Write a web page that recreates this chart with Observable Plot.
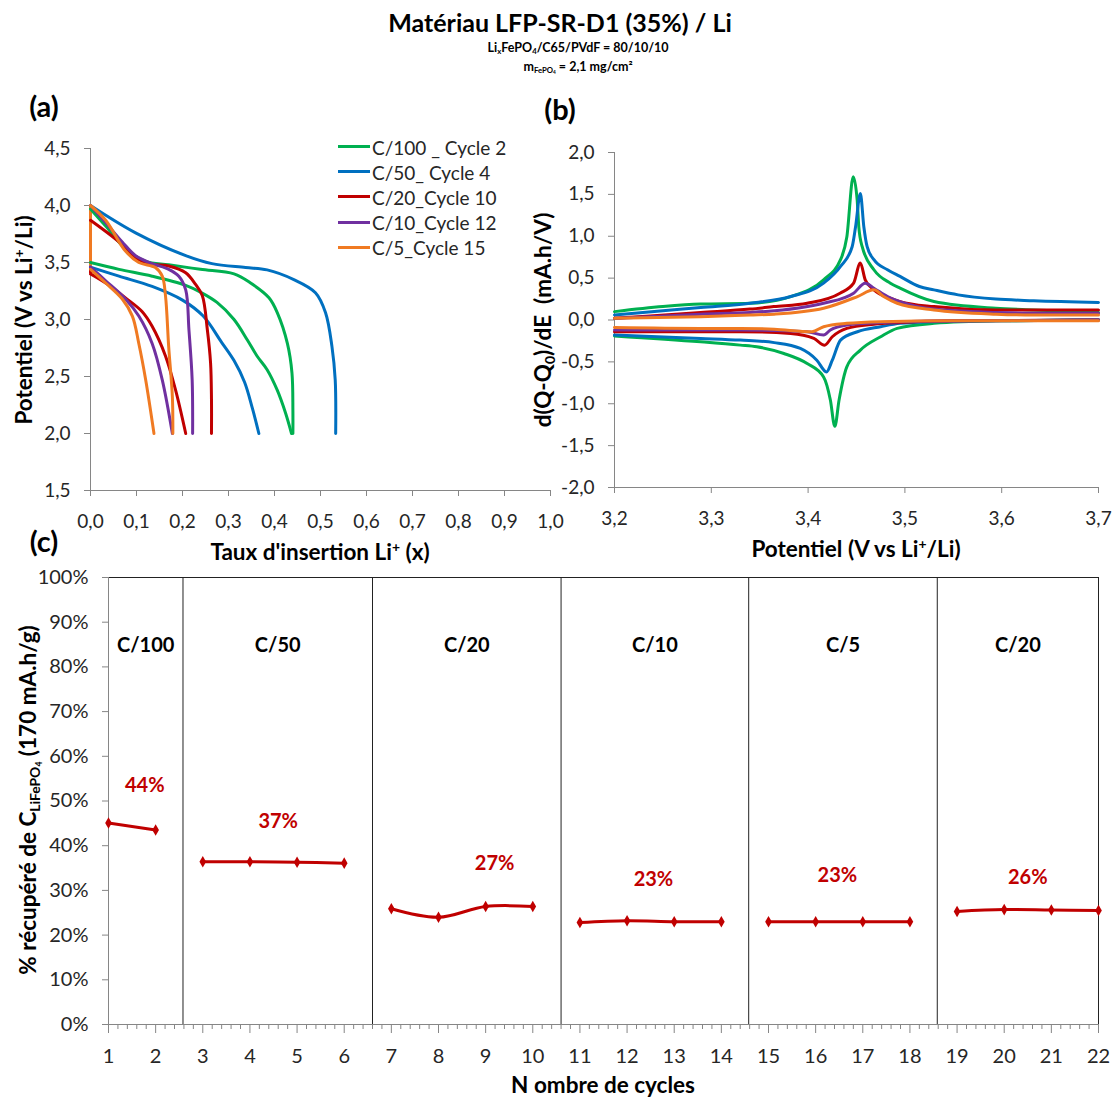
<!DOCTYPE html>
<html><head><meta charset="utf-8">
<script src="https://cdn.jsdelivr.net/npm/d3@7"></script>
<script src="https://cdn.jsdelivr.net/npm/@observablehq/plot@0.6"></script>
<style>
body{margin:0;background:#fff;font-family:Lato,"Open Sans",sans-serif;}
#wrap{position:relative;width:1117px;height:1098px;overflow:hidden;background:#fff;}
#wrap svg{position:absolute;}
.t{position:absolute;white-space:nowrap;color:#000;line-height:1;}
sub.s{font-size:0.62em;vertical-align:-0.3em;line-height:0;}
sup.s{font-size:0.62em;vertical-align:0.55em;line-height:0;}
</style></head><body><div id="wrap"></div>
<script>
// ---------- shared ----------
const seriesNames = ["C/100 _ Cycle 2", "C/50_ Cycle 4", "C/20_Cycle 10", "C/10_Cycle 12", "C/5_Cycle 15"];
const seriesColors = ["#00B050", "#0070C0", "#C00000", "#7030A0", "#F07A22"];

// ---------- panel (a): potential vs insertion rate ----------
const aXTicks = [0, 0.1, 0.2, 0.3, 0.4, 0.5, 0.6, 0.7, 0.8, 0.9, 1.0];
const aYTicks = [1.5, 2.0, 2.5, 3.0, 3.5, 4.0, 4.5];
// lower branch (starts at x = 0)
const aGreenLoX = [0,0.062,0.134,0.207,0.239,0.275,0.312,0.341,0.362,0.384,0.406,0.424,0.437];
const aGreenLoV = [3.5,3.44,3.38,3.30,3.24,3.15,3.0,2.82,2.68,2.56,2.38,2.18,2.0];
const aBlueLoX = [0,0.062,0.134,0.2,0.245,0.285,0.312,0.335,0.352,0.366];
const aBlueLoV = [3.46,3.38,3.29,3.17,3.03,2.8,2.64,2.45,2.22,2.0];
const aRedLoX = [0,0.033,0.076,0.112,0.134,0.163,0.185,0.207];
const aRedLoV = [3.40,3.32,3.19,3.07,2.94,2.68,2.38,2.0];
const aPurpleLoX = [0,0.033,0.076,0.105,0.134,0.156,0.178];
const aPurpleLoV = [3.46,3.34,3.18,3.03,2.79,2.47,2.0];
const aOrangeLoX = [0,0.033,0.069,0.091,0.105,0.12,0.138];
const aOrangeLoV = [3.44,3.32,3.18,3.03,2.79,2.47,2.0];
// upper branch (starts at x = 0)
const aGreenUpX = [0,0.033,0.076,0.12,0.17,0.239,0.312,0.348,0.388,0.406,0.428,0.438,0.44,0.44];
const aGreenUpV = [3.97,3.82,3.62,3.51,3.48,3.44,3.40,3.32,3.19,3.06,2.79,2.53,2.2,2.0];
const aBlueUpX = [0,0.098,0.207,0.264,0.337,0.384,0.442,0.489,0.511,0.525,0.532,0.533];
const aBlueUpV = [4.0,3.76,3.56,3.49,3.456,3.435,3.35,3.235,3.06,2.76,2.47,2.0];
const aRedUpX = [0,0.062,0.098,0.134,0.17,0.207,0.228,0.243,0.254,0.261,0.263,0.263];
const aRedUpV = [3.87,3.68,3.54,3.485,3.47,3.41,3.31,3.21,2.91,2.62,2.3,2.0];
const aPurpleUpX = [0,0.033,0.069,0.098,0.134,0.17,0.192,0.207,0.214,0.221,0.222];
const aPurpleUpV = [4.0,3.85,3.68,3.56,3.49,3.44,3.38,3.26,2.91,2.47,2.0];
const aOrangeUpX = [0,0.033,0.076,0.105,0.141,0.156,0.163,0.17,0.178,0.179];
const aOrangeUpV = [4.0,3.87,3.60,3.50,3.456,3.38,3.21,2.76,2.32,2.0];

// ---------- panel (b): dQ/dE vs potential ----------
const bXTicks = [3.2, 3.3, 3.4, 3.5, 3.6, 3.7];
const bYTicks = [-2.0, -1.5, -1.0, -0.5, 0.0, 0.5, 1.0, 1.5, 2.0];
const bGreenUpE = [3.2,3.25,3.289,3.34,3.382,3.416,3.4335,3.44,3.4466,3.4507,3.4524,3.4559,3.468,3.485,3.495,3.53,3.594,3.633,3.7];
const bGreenUp  = [0.10,0.16,0.19,0.20,0.28,0.48,0.72,0.99,1.71,1.43,1.11,0.875,0.60,0.44,0.38,0.22,0.14,0.12,0.09];
const bBlueUpE  = [3.2,3.25,3.289,3.34,3.382,3.416,3.4335,3.4455,3.449,3.454,3.4576,3.461,3.468,3.482,3.495,3.515,3.53,3.555,3.594,3.633,3.7];
const bBlueUp   = [0.06,0.11,0.15,0.20,0.28,0.44,0.64,0.875,1.11,1.51,1.11,0.875,0.72,0.60,0.52,0.40,0.36,0.30,0.25,0.23,0.21];
const bRedUpE   = [3.2,3.289,3.34,3.3646,3.399,3.433,3.447,3.454,3.459,3.468,3.485,3.495,3.53,3.594,3.633,3.7];
const bRedUp    = [0.02,0.09,0.13,0.16,0.20,0.32,0.44,0.68,0.48,0.36,0.26,0.22,0.16,0.12,0.12,0.12];
const bPurpleUpE= [3.2,3.289,3.34,3.365,3.416,3.447,3.459,3.468,3.482,3.495,3.53,3.594,3.633,3.7];
const bPurpleUp = [0.02,0.07,0.09,0.11,0.20,0.32,0.44,0.38,0.28,0.22,0.13,0.09,0.08,0.08];
const bOrangeUpE= [3.2,3.289,3.34,3.365,3.416,3.451,3.468,3.478,3.492,3.53,3.594,3.633,3.7];
const bOrangeUp = [0.02,0.04,0.06,0.07,0.14,0.28,0.36,0.28,0.20,0.12,0.07,0.06,0.06];
const bGreenDnE = [3.2,3.289,3.33,3.347,3.375,3.399,3.416,3.423,3.4276,3.432,3.44,3.454,3.475,3.492,3.53,3.594,3.7];
const bGreenDn  = [-0.19,-0.26,-0.30,-0.32,-0.40,-0.52,-0.68,-0.955,-1.27,-0.955,-0.56,-0.36,-0.20,-0.10,-0.04,-0.01,0.0];
const bBlueDnE  = [3.2,3.289,3.33,3.365,3.392,3.409,3.419,3.425,3.4335,3.451,3.475,3.495,3.53,3.6,3.7];
const bBlueDn   = [-0.18,-0.22,-0.24,-0.27,-0.34,-0.48,-0.62,-0.48,-0.24,-0.14,-0.08,-0.04,-0.02,-0.01,0.0];
const bRedDnE   = [3.2,3.289,3.33,3.382,3.406,3.417,3.425,3.44,3.468,3.495,3.55,3.7];
const bRedDn    = [-0.14,-0.14,-0.14,-0.16,-0.22,-0.30,-0.20,-0.10,-0.05,-0.03,-0.01,0.0];
const bPurpleDnE= [3.2,3.33,3.399,3.416,3.423,3.44,3.475,3.55,3.7];
const bPurpleDn = [-0.12,-0.12,-0.14,-0.18,-0.12,-0.06,-0.03,-0.01,0.0];
const bOrangeDnE= [3.2,3.289,3.33,3.365,3.404,3.416,3.44,3.475,3.55,3.7];
const bOrangeDn = [-0.09,-0.10,-0.10,-0.11,-0.14,-0.08,-0.04,-0.02,-0.01,-0.01];

// ---------- panel (c): recovered capacity vs cycle ----------
const cCycles = [1,2,3,4,5,6,7,8,9,10,11,12,13,14,15,16,17,18,19,20,21,22];
const cValues = [0.451,0.435,0.364,0.364,0.363,0.361,0.259,0.240,0.264,0.264,0.228,0.232,0.230,0.230,0.230,0.230,0.230,0.230,0.253,0.257,0.256,0.255];
const cGroups = [1,1,2,2,2,2,3,3,3,3,4,4,4,4,5,5,5,5,6,6,6,6];
const cRates = ["C/100","C/50","C/20","C/10","C/5","C/20"];
const cSeparators = [2.58, 6.6, 10.6, 14.58, 18.58];
const cPctLabels = ["44%","37%","27%","23%","23%","26%"];
const cPctX = [1.77, 4.6, 9.19, 12.56, 16.46, 20.5];
const cPctY = [0.535, 0.453, 0.359, 0.324, 0.333, 0.328];
const cRateY = 0.848;
const cYTicks = [0,0.1,0.2,0.3,0.4,0.5,0.6,0.7,0.8,0.9,1.0];

// ---------- build ----------
const wrap = document.getElementById("wrap");
const AXIS = "#868686", TXT = "#262626", FONT = "Lato, 'Open Sans', sans-serif";
const fmt1 = d => d.toFixed(1).replace(".", ",");
const baseStyle = {fontFamily: FONT, fontSize: "18px", color: TXT, background: "transparent", overflow: "visible"};

function place(svg, left, top) { svg.style.left = left + "px"; svg.style.top = top + "px"; wrap.append(svg); }
function text(html, x, y, css, rot) {
  const d = document.createElement("div");
  d.className = "t";
  d.innerHTML = html;
  d.style.cssText += `left:${x}px;top:${y}px;transform:translate(-50%,-50%)${rot ? " rotate(-90deg)" : ""};` + css;
  wrap.append(d);
}

// panel (a)
const aLoX = [aGreenLoX, aBlueLoX, aRedLoX, aPurpleLoX, aOrangeLoX];
const aLoV = [aGreenLoV, aBlueLoV, aRedLoV, aPurpleLoV, aOrangeLoV];
const aUpX = [aGreenUpX, aBlueUpX, aRedUpX, aPurpleUpX, aOrangeUpX];
const aUpV = [aGreenUpV, aBlueUpV, aRedUpV, aPurpleUpV, aOrangeUpV];
const dataA = seriesNames.flatMap((s, i) => [
  ...aLoX[i].map((x, j) => ({s, k: s + "lo", x, v: aLoV[i][j]})),
  ...aUpX[i].map((x, j) => ({s, k: s + "up", x, v: aUpV[i][j]}))
]);
const jumpsA = seriesNames.map((s, i) => ({s, x: 0, v1: aLoV[i][0], v2: aUpV[i][0]}));
const plotA = Plot.plot({
  width: 560, height: 450, marginLeft: 90, marginRight: 10, marginTop: 28, marginBottom: 80,
  style: baseStyle,
  x: {domain: [0, 1]}, y: {domain: [1.5, 4.5]},
  color: {domain: seriesNames, range: seriesColors},
  marks: [
    Plot.ruleY([1.5], {stroke: AXIS}),
    Plot.ruleX([0], {stroke: AXIS}),
    Plot.axisX({ticks: aXTicks, tickFormat: fmt1, tickSize: 6, tickPadding: 18, stroke: AXIS, label: null, fontSize: 19}),
    Plot.axisY({ticks: aYTicks, tickFormat: fmt1, tickSize: 6, tickPadding: 14, stroke: AXIS, label: null, fontSize: 19}),
    Plot.ruleX(jumpsA, {x: "x", y1: "v1", y2: "v2", stroke: "s", strokeWidth: 3}),
    Plot.line(dataA, {x: "x", y: "v", z: "k", stroke: "s", strokeWidth: 3, curve: "catmull-rom"})
  ]
});
place(plotA, 0, 120);

// panel (b)
const bUpE = [bGreenUpE, bBlueUpE, bRedUpE, bPurpleUpE, bOrangeUpE];
const bUp = [bGreenUp, bBlueUp, bRedUp, bPurpleUp, bOrangeUp];
const bDnE = [bGreenDnE, bBlueDnE, bRedDnE, bPurpleDnE, bOrangeDnE];
const bDn = [bGreenDn, bBlueDn, bRedDn, bPurpleDn, bOrangeDn];
const dataB = seriesNames.flatMap((s, i) => [
  ...bUpE[i].map((e, j) => ({s, k: s + "up", e, d: bUp[i][j]})),
  ...bDnE[i].map((e, j) => ({s, k: s + "dn", e, d: bDn[i][j]}))
]);
const plotB = Plot.plot({
  width: 577, height: 450, marginLeft: 74, marginRight: 19, marginTop: 32, marginBottom: 83,
  style: baseStyle,
  x: {domain: [3.2, 3.7]}, y: {domain: [-2, 2]},
  color: {domain: seriesNames, range: seriesColors},
  marks: [
    Plot.ruleY([-2], {stroke: AXIS}),
    Plot.ruleX([3.2], {stroke: AXIS}),
    Plot.axisX({ticks: bXTicks, tickFormat: fmt1, tickSize: 6, tickPadding: 18, stroke: AXIS, label: null, fontSize: 19}),
    Plot.axisY({ticks: bYTicks, tickFormat: fmt1, tickSize: 6, tickPadding: 14, stroke: AXIS, label: null, fontSize: 19}),
    Plot.line(dataB, {x: "e", y: "d", z: "k", stroke: "s", strokeWidth: 3, curve: "monotone-x"})
  ]
});
place(plotB, 540, 120);

// panel (c)
const dataC = cCycles.map((c, i) => ({c, v: cValues[i], g: cGroups[i]}));
const bounds = [1, ...cSeparators, 22];
const rateData = cRates.map((r, i) => ({r, x: (bounds[i] + bounds[i + 1]) / 2, y: cRateY}));
const pctData = cPctLabels.map((p, i) => ({p, x: cPctX[i], y: cPctY[i]}));
const minorTicks = d3.range(1, 22.0001, 0.2).filter(t => Math.abs(t - Math.round(t)) > 1e-6);
const plotC = Plot.plot({
  width: 1117, height: 538, marginLeft: 108, marginRight: 19, marginTop: 17, marginBottom: 74,
  style: baseStyle,
  x: {domain: [1, 22]}, y: {domain: [0, 1]},
  marks: [
    Plot.ruleY([1], {stroke: "#222"}),
    Plot.ruleX([22], {stroke: "#222"}),
    Plot.ruleX(cSeparators, {stroke: "#222", y1: 0, y2: 1, strokeWidth: 1}),
    Plot.ruleY([0], {stroke: AXIS}),
    Plot.ruleX([1], {stroke: AXIS}),
    Plot.axisX({ticks: minorTicks, tickFormat: () => "", tickSize: 5, stroke: AXIS, label: null}),
    Plot.axisX({ticks: cCycles, tickFormat: d => String(d), tickSize: 9, tickPadding: 15, stroke: AXIS, label: null, fontSize: 20}),
    Plot.axisY({ticks: cYTicks, tickFormat: d => Math.round(d * 100) + "%", tickSize: 6, tickPadding: 14, stroke: AXIS, label: null, fontSize: 20}),
    Plot.line(dataC, {x: "c", y: "v", z: "g", stroke: "#C00000", strokeWidth: 3, curve: "catmull-rom"}),
    Plot.dot(dataC, {x: "c", y: "v", symbol: "diamond", r: 3.5, fill: "#C00000", stroke: "none"}),
    Plot.text(rateData, {x: "x", y: "y", text: "r", fontSize: 20, fontWeight: "bold", fill: "#000"}),
    Plot.text(pctData, {x: "x", y: "y", text: "p", fontSize: 20, fontWeight: "bold", fill: "#C00000"})
  ]
});
place(plotC, 0, 560);

// ---------- texts ----------
text("Matériau LFP-SR-D1 (35%) / Li", 560, 22, "font-weight:bold;font-size:25px;");
text("Li<sub class='s'>x</sub>FePO<sub class='s'>4</sub>/C65/PVdF = 80/10/10", 578, 48, "font-weight:bold;font-size:12.5px;");
text("m<sub class='s'>FePO<sub class='s'>4</sub></sub> = 2,1 mg/cm²", 578, 67, "font-weight:bold;font-size:12.5px;");
text("(a)", 44, 105, "font-weight:bold;font-size:29px;");
text("(b)", 560, 108, "font-weight:bold;font-size:29px;");
text("(c)", 44, 540, "font-weight:bold;font-size:29px;");

const AT = "font-weight:bold;font-size:22.5px;";
text("Potentiel (V vs Li<sup class='s'>+</sup>/Li)", 24, 320, AT, true);
text("Taux d'insertion Li<sup class='s'>+</sup> (x)", 320, 552, AT);
text("d(Q-Q<sub class='s'>0</sub>)/dE&nbsp;&nbsp;(mA.h/V)", 543, 320, AT, true);
text("Potentiel (V vs Li<sup class='s'>+</sup>/Li)", 856, 549, AT);
text("% récupéré de C<sub class='s'>LiFePO<sub class='s'>4</sub></sub> (170 mA.h/g)", 28, 800, AT, true);
text("N ombre de cycles", 603, 1085, AT);

// legend
seriesNames.forEach((s, i) => {
  const y = 146.5 + i * 25.2;
  const ln = document.createElement("div");
  ln.style.cssText = `position:absolute;left:338px;top:${y - 1.5}px;width:32px;height:3px;background:${seriesColors[i]};`;
  wrap.append(ln);
  const d = document.createElement("div");
  d.className = "t";
  d.textContent = s;
  d.style.cssText += `left:372px;top:${y}px;transform:translateY(-50%);font-size:19px;color:${TXT};`;
  wrap.append(d);
});
</script></body></html>
